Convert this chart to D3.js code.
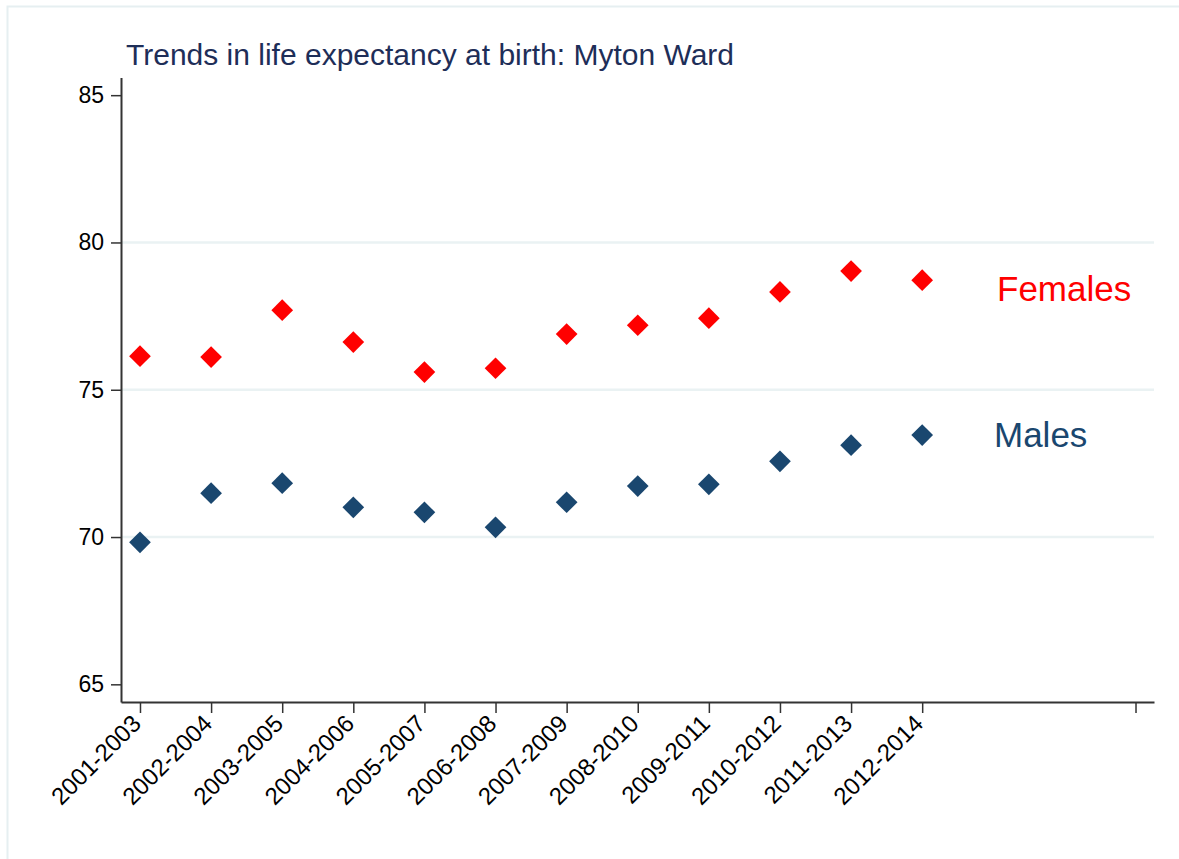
<!DOCTYPE html>
<html>
<head>
<meta charset="utf-8">
<script src="https://cdn.jsdelivr.net/npm/d3@7"></script>
<style>
  body { margin: 0; background: #fff; }
  svg text { font-family: "Liberation Sans", Arial, sans-serif; }
</style>
</head>
<body>
<div id="chart"></div>
<script>

// data
var periods = ["2001-2003", "2002-2004", "2003-2005", "2004-2006", "2005-2007", "2006-2008",
               "2007-2009", "2008-2010", "2009-2011", "2010-2012", "2011-2013", "2012-2014"];
var females = [76.14, 76.11, 77.70, 76.62, 75.60, 75.73, 76.89, 77.19, 77.43, 78.32, 79.03, 78.72];
var males   = [69.82, 71.49, 71.83, 71.01, 70.84, 70.33, 71.18, 71.73, 71.79, 72.57, 73.12, 73.46];
var yTicks  = [65, 70, 75, 80, 85];
var gridTicks = [70, 75, 80];
var seriesLabels = ["Females", "Males"];

var width = 1179, height = 859;
var navy = "#1a476f", red = "#ff0000";

var svg = d3.select("#chart").append("svg")
    .attr("width", width).attr("height", height);

// outer frame (runs off the right and bottom edges)
svg.append("rect")
   .attr("x", 7.5).attr("y", 6.5)
   .attr("width", 1200).attr("height", 900)
   .attr("fill", "#fff").attr("stroke", "#e6eff1").attr("stroke-width", 2);

var x = d3.scaleLinear().domain([-0.267, 14.26]).range([121, 1154]);
var y = d3.scaleLinear().domain([64.4, 85.6]).range([702, 77.5]);

// gridlines
svg.append("g").selectAll("line")
   .data(gridTicks)
   .enter().append("line")
   .attr("x1", 122).attr("x2", 1154)
   .attr("y1", function(d) { return y(d); })
   .attr("y2", function(d) { return y(d); })
   .attr("stroke", "#eaf2f3").attr("stroke-width", 2.5);

// y axis
var yAxis = svg.append("g")
   .attr("transform", "translate(121,0)")
   .call(d3.axisLeft(y).tickValues(yTicks).tickSize(10).tickSizeOuter(0).tickPadding(7));
yAxis.select(".domain").attr("stroke", "#333").attr("stroke-width", 2);
yAxis.selectAll(".tick line").attr("stroke", "#333").attr("stroke-width", 1.5);
yAxis.selectAll("text").attr("font-size", 23).attr("fill", "#000");

// x axis - stata leaves an extra unlabeled tick at the end
var xTickVals = d3.range(periods.length).concat([14]);
var xAxis = svg.append("g")
   .attr("transform", "translate(0,702)")
   .call(d3.axisBottom(x).tickValues(xTickVals).tickSize(11).tickSizeOuter(0)
           .tickFormat(function(d) { return periods[d] || ""; }));
xAxis.select(".domain").attr("stroke", "#333").attr("stroke-width", 2);
xAxis.selectAll(".tick line").attr("stroke", "#333").attr("stroke-width", 1.5);
xAxis.selectAll("text")
     .attr("font-size", 24).attr("fill", "#000")
     .attr("text-anchor", "end")
     .attr("y", 0).attr("dy", 0)
     .attr("transform", "translate(2,23) rotate(-45)");

// markers
var diamond = d3.symbol().type(d3.symbolDiamond2).size(300);

function drawSeries(vals, color) {
  svg.append("g").selectAll("path")
     .data(vals)
     .enter().append("path")
     .attr("d", diamond)
     .attr("transform", function(d, i) { return "translate(" + x(i) + "," + y(d) + ")"; })
     .attr("fill", color);
}
drawSeries(females, red);
drawSeries(males, navy);

// series labels
svg.append("text").attr("x", 997).attr("y", 301)
   .attr("font-size", 35).attr("fill", red).text(seriesLabels[0]);
svg.append("text").attr("x", 994).attr("y", 447)
   .attr("font-size", 35).attr("fill", navy).text(seriesLabels[1]);

// title
svg.append("text").attr("x", 126).attr("y", 65)
   .attr("font-size", 30).attr("fill", "#1e2e58")
   .text("Trends in life expectancy at birth: Myton Ward");

</script>
</body>
</html>
